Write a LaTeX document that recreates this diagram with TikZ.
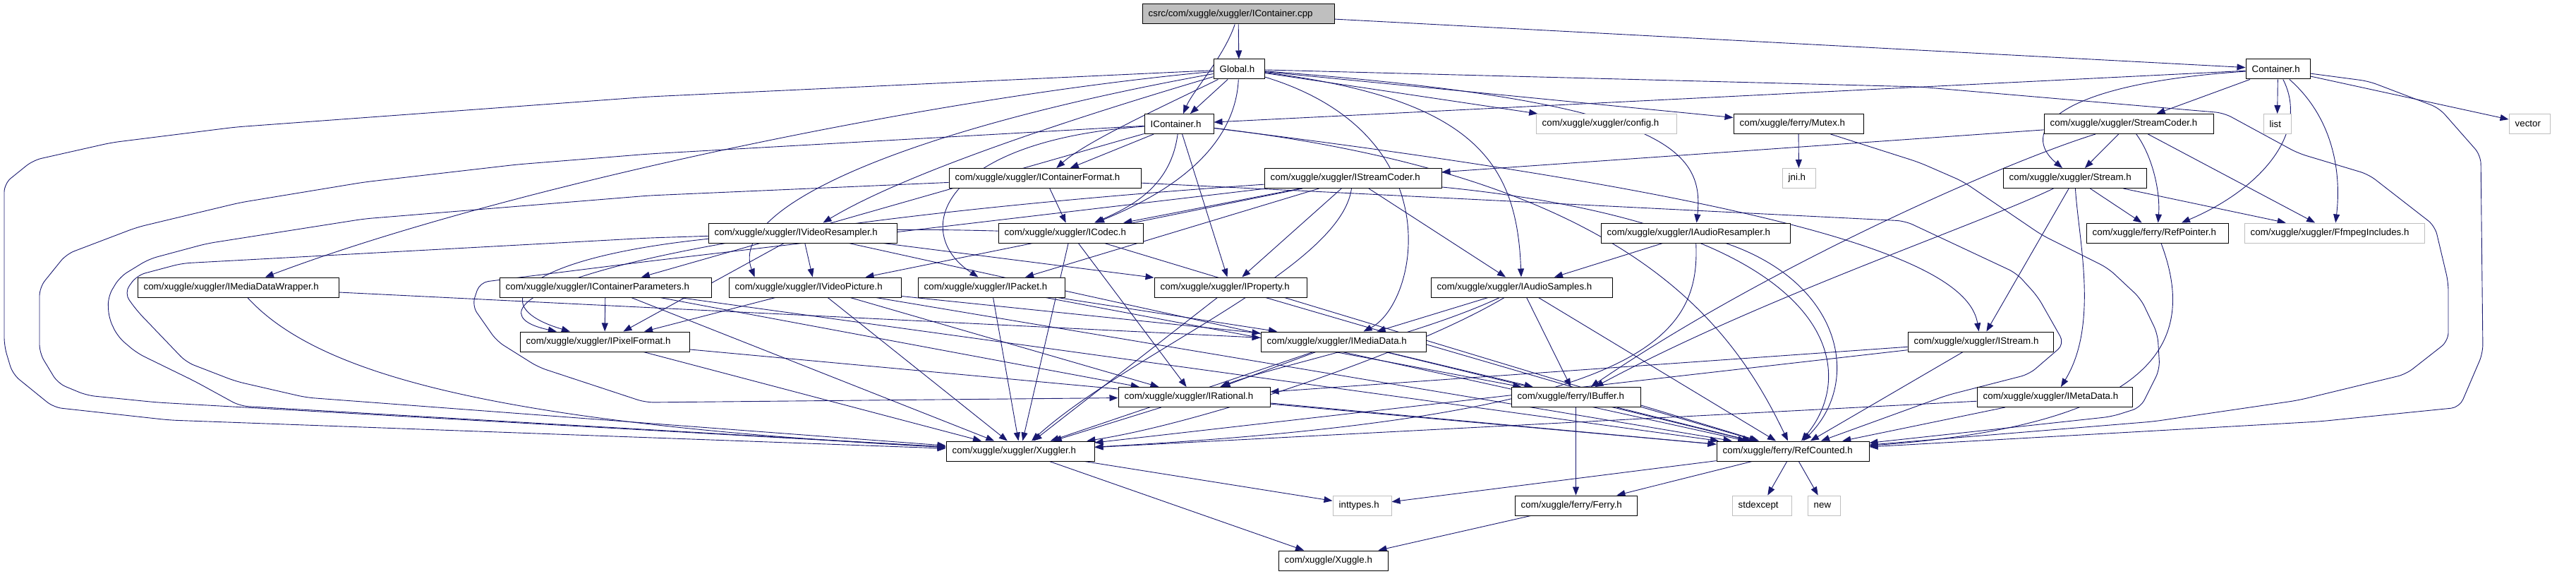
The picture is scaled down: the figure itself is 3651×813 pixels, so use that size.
\documentclass[tikz,border=0pt]{standalone}
\usepackage{fontspec}
\setmainfont{Liberation Sans}
\usetikzlibrary{arrows.meta}
\definecolor{edgec}{HTML}{191970}
\definecolor{grayb}{HTML}{BFBFBF}
\pgfdeclarelayer{bg}
\pgfsetlayers{bg,main}
\newcommand{\nd}[6][box]{%
  \node[#1,minimum width={#4-#3}] (#2) at ({(#3+#4)/2},#5) {};
  \node[lbl] (#2-t) at ([xshift=9pt]#2.west) {#6};}
\begin{document}
\begin{tikzpicture}[x=1pt,y=-1pt,
  box/.style={draw=black,line width=1pt,minimum height=28pt,inner sep=0pt,fill=white},
  gbox/.style={box,draw=grayb},
  cbox/.style={box,fill=grayb},
  lbl/.style={anchor=west,inner sep=0pt,font=\fontsize{13.3pt}{16pt}\selectfont},
  e/.style={draw=edgec,line width=0.9pt,-{Triangle[length=12pt,width=9pt]}},
  rc/.style={rounded corners=12pt}]
\useasboundingbox (0,0) rectangle (3651,813);
% ---------- nodes ----------
\nd[cbox]{cpp}{1619}{1891}{20}{csrc/com/xuggle/xuggler/IContainer.cpp}
\nd{glob}{1720}{1792}{98}{Global.h}
\nd{cont}{3183}{3274}{98}{Container.h}
\nd{icont}{1622}{1720}{175.5}{IContainer.h}
\nd[gbox]{config}{2177}{2376}{175.5}{com/xuggle/xuggler/config.h}
\nd{mutex}{2457}{2641}{175.5}{com/xuggle/ferry/Mutex.h}
\nd{scoder}{2897}{3137}{175.5}{com/xuggle/xuggler/StreamCoder.h}
\nd[gbox]{list}{3208}{3247}{175.5}{list}
\nd[gbox]{vector}{3556}{3614}{175.5}{vector}
\nd{icfmt}{1345}{1617}{252.5}{com/xuggle/xuggler/IContainerFormat.h}
\nd{iscoder}{1792}{2043}{252.5}{com/xuggle/xuggler/IStreamCoder.h}
\nd[gbox]{jni}{2526}{2573}{252.5}{jni.h}
\nd{stream}{2839}{3042}{252.5}{com/xuggle/xuggler/Stream.h}
\nd{ivres}{1004}{1271}{330}{com/xuggle/xuggler/IVideoResampler.h}
\nd{icodec}{1415}{1620}{330}{com/xuggle/xuggler/ICodec.h}
\nd{iares}{2269}{2537}{330}{com/xuggle/xuggler/IAudioResampler.h}
\nd{refptr}{2957}{3158}{330}{com/xuggle/ferry/RefPointer.h}
\nd[gbox]{ffmpeg}{3181}{3436}{330}{com/xuggle/xuggler/FfmpegIncludes.h}
\nd{imdw}{195}{480}{407}{com/xuggle/xuggler/IMediaDataWrapper.h}
\nd{icparams}{708}{1008}{407}{com/xuggle/xuggler/IContainerParameters.h}
\nd{ivpic}{1033}{1277}{407}{com/xuggle/xuggler/IVideoPicture.h}
\nd{ipacket}{1301}{1509}{407}{com/xuggle/xuggler/IPacket.h}
\nd{iprop}{1636}{1852}{407}{com/xuggle/xuggler/IProperty.h}
\nd{iasamp}{2028}{2285}{407}{com/xuggle/xuggler/IAudioSamples.h}
\nd{ipixfmt}{737}{977}{484}{com/xuggle/xuggler/IPixelFormat.h}
\nd{imdata}{1787}{2021}{484}{com/xuggle/xuggler/IMediaData.h}
\nd{istream}{2704}{2910}{484}{com/xuggle/xuggler/IStream.h}
\nd{irational}{1585}{1800}{562.5}{com/xuggle/xuggler/IRational.h}
\nd{ibuffer}{2142}{2325}{562.5}{com/xuggle/ferry/IBuffer.h}
\nd{imeta}{2802}{3022}{562.5}{com/xuggle/xuggler/IMetaData.h}
\nd{xuggler}{1341}{1551}{639}{com/xuggle/xuggler/Xuggler.h}
\nd{refcnt}{2433}{2649}{639}{com/xuggle/ferry/RefCounted.h}
\nd[gbox]{inttypes}{1889}{1972}{716}{inttypes.h}
\nd{ferry}{2147}{2320}{716}{com/xuggle/ferry/Ferry.h}
\nd[gbox]{stdexcept}{2455}{2539}{716}{stdexcept}
\nd[gbox]{new}{2562}{2608}{716}{new}
\nd{xuggle}{1812}{1967}{794}{com/xuggle/Xuggle.h}
% ---------- edges ----------
\begin{pgfonlayer}{bg}
% cpp
\draw[e] (cpp) -- (glob);
\draw[e] (cpp) .. controls (1735,80) and (1690,130) .. (icont);
\draw[e] (cpp) -- (cont);
% Global.h
\draw[e] (glob) -- (icont);
\draw[e] (glob) .. controls (1650,150) and (1540,200) .. (icfmt);
\draw[e] (glob) .. controls (1750,220) and (1640,280) .. (icodec);
\draw[e] (glob) .. controls (1410,200) and (1250,265) .. ([xshift=163pt]ivres.north west);
\draw[e] (glob) .. controls (2357,143) and (2416,210) .. (iares);
\draw[e] (glob) .. controls (2090,140) and (2150,230) .. (iasamp);
\draw[e] (glob) .. controls (1300,140) and (700,270) .. (imdw);
\draw[e] (glob) .. controls (1300,180) and (1030,290) .. ([xshift=37pt]ivpic.north west);
\draw[e] (glob) .. controls (2060,190) and (2010,430) .. (imdata);
\draw[e] (glob) -- (config);
\draw[e] (glob) -- (mutex);
\draw[e,rc] (glob) -- (920,137) -- (334,180) -- (158,202) -- (47,227) -- (6,260) -- (6,490) -- (18,530) -- (76,577) -- (240,595) -- (xuggler);
\draw[e,rc] (glob) -- (2720,123) -- (3152,160) -- (3257,217) -- (3357,247) -- (3451,320) -- (3470,400) -- (3470,483) -- (3410,530) -- (3257,567) -- (3052,597) -- (refcnt);
% Container.h
\draw[e] (cont) -- (icont);
\draw[e] (cont) -- (scoder);
\draw[e] (cont) .. controls (2900,120) and (2865,190) .. (stream);
\draw[e] (cont) -- (list);
\draw[e] (cont) -- (vector);
\draw[e] (cont) .. controls (3275,190) and (3200,270) .. (refptr);
\draw[e] (cont) .. controls (3310,170) and (3318,250) .. (ffmpeg);
\draw[e,rc] (cont) -- (3357,115) -- (3457,153) -- (3516,220) -- (3519,500) -- (3486,577) -- (3287,597) -- (refcnt);
% IContainer.h
\draw[e] (icont) -- (icfmt);
\draw[e] (icont) .. controls (1660,260) and (1610,290) .. (icodec);
\draw[e] (icont) -- (iprop);
\draw[e] (icont) .. controls (1330,200) and (1290,330) .. ([xshift=86pt]ipacket.north west);
\draw[e] (icont) -- (icparams);
\draw[e] (icont) .. controls (2600,290) and (2790,380) .. (istream);
\draw[e,rc] (icont) -- (920,218) -- (733,233) -- (516,258) -- (340,287) -- (194,322) -- (94,360) -- (56,407) -- (56,500) -- (82,543) -- (123,560) -- (223,570) -- (xuggler);
\draw[e] (icont) .. controls (2300,250) and (2450,450) .. (refcnt);
% Mutex.h
\draw[e] (mutex) -- (jni);
\draw[e,rc] (mutex) -- (2720,230) -- (2782,257) -- (2894,333) -- (2988,380) -- (3034,423) -- (3058,473) -- (3061,523) -- (3034,577) -- (2993,590) -- (refcnt);
% StreamCoder.h
\draw[e] (scoder) -- (iscoder);
\draw[e] (scoder) -- (stream);
\draw[e] (scoder) .. controls (3050,220) and (3062,270) .. (refptr);
\draw[e] (scoder) -- (ffmpeg);
\draw[e] (scoder) .. controls (2840,230) and (2500,380) .. (ibuffer);
% Stream.h
\draw[e] (stream) -- (istream);
\draw[e] (stream) -- (refptr);
\draw[e] (stream) -- (ffmpeg);
\draw[e] (stream) .. controls (2946,340) and (2975,460) .. (imeta);
\draw[e] (stream) .. controls (2800,320) and (2500,420) .. (ibuffer);
% IStreamCoder.h
\draw[e] (iscoder) -- (icodec);
\draw[e] (iscoder) -- (iprop);
\draw[e] (iscoder) -- (ipacket);
\draw[e] (iscoder) -- (iasamp);
\draw[e] (iscoder) -- (ivpic);
\draw[e] (iscoder) .. controls (1900,380) and (1600,500) .. (xuggler);
\draw[e] (iscoder) .. controls (2600,320) and (2640,520) .. (refcnt);
\draw[e,rc] (iscoder) -- (920,370) -- (680,400) -- (669,433) -- (704,483) -- (763,520) -- (915,570) -- (irational);
\draw[e] (iscoder) .. controls (800,330) and (650,440) .. (ipixfmt);
% IContainerFormat.h
\draw[e] (icfmt) -- (icodec);
\draw[e,rc] (icfmt) -- (920,277) -- (516,310) -- (293,345) -- (211,367) -- (170,392) -- (153,420) -- (154,450) -- (167,477) -- (194,500) -- (276,540) -- (340,575) -- (xuggler);
\draw[e,rc] (icfmt) -- (1900,273) -- (2700,313) -- (2858,387) -- (2888,420) -- (2926,487) -- (2876,530) -- (2759,560) -- (refcnt);
% IVideoResampler.h
\draw[e] (ivres) -- (ivpic);
\draw[e] (ivres) -- (ipixfmt);
\draw[e] (ivres) -- (iprop);
\draw[e,rc] (ivres) -- (920,337) -- (258,373) -- (194,390) -- (176,415) -- (194,440) -- (264,513) -- (334,540) -- (434,563) -- (xuggler);
\draw[e] (ivres) -- (refcnt);
% ICodec.h
\draw[e] (icodec) -- (irational);
\draw[e] (icodec) -- (xuggler);
\draw[e] (icodec) -- (refcnt);
\draw[e] (icodec) .. controls (800,310) and (640,420) .. (ipixfmt);
% IAudioResampler.h
\draw[e] (iares) -- (iasamp);
\draw[e] (iares) .. controls (2410,480) and (2330,590) .. (xuggler);
\draw[e] (iares) .. controls (2610,400) and (2640,540) .. (refcnt);
% RefPointer.h
\draw[e] (refptr) .. controls (3110,470) and (3080,600) .. (refcnt);
% IMediaDataWrapper.h
\draw[e] (imdw) -- (imdata);
\draw[e] (imdw) .. controls (450,530) and (700,600) .. (xuggler);
% IContainerParameters.h
\draw[e] (icparams) -- (ipixfmt);
\draw[e] (icparams) -- (irational);
\draw[e] (icparams) -- (xuggler);
\draw[e] (icparams) -- (refcnt);
% IVideoPicture.h
\draw[e] (ivpic) -- (ipixfmt);
\draw[e] (ivpic) -- (imdata);
\draw[e] (ivpic) -- (irational);
\draw[e] (ivpic) -- (xuggler);
\draw[e] (ivpic) -- (refcnt);
% IPacket.h
\draw[e] (ipacket) -- (imdata);
\draw[e] (ipacket) -- (xuggler);
\draw[e] (ipacket) -- (ibuffer);
% IProperty.h
\draw[e] (iprop) -- (xuggler);
\draw[e] (iprop) -- (refcnt);
% IAudioSamples.h
\draw[e] (iasamp) -- (imdata);
\draw[e] (iasamp) -- (ibuffer);
\draw[e] (iasamp) .. controls (2000,480) and (1800,520) .. (irational);
\draw[e] (iasamp) .. controls (2000,500) and (1700,600) .. (xuggler);
\draw[e] (iasamp) -- (refcnt);
% IPixelFormat.h
\draw[e] (ipixfmt) -- (xuggler);
\draw[e] (ipixfmt) -- (refcnt);
% IMediaData.h
\draw[e] (imdata) -- (irational);
\draw[e] (imdata) -- (ibuffer);
\draw[e] (imdata) -- (xuggler);
\draw[e] (imdata) -- (refcnt);
% IStream.h
\draw[e] (istream) -- (irational);
\draw[e] (istream) -- (xuggler);
\draw[e] (istream) -- (refcnt);
% lower
\draw[e] (irational) -- (xuggler);
\draw[e] (irational) -- (refcnt);
\draw[e] (ibuffer) -- (ferry);
\draw[e] (ibuffer) -- (refcnt);
\draw[e] (imeta) -- (xuggler);
\draw[e] (imeta) -- (refcnt);
\draw[e] (xuggler) -- (inttypes);
\draw[e] (xuggler) -- (xuggle);
\draw[e] (refcnt) -- (inttypes);
\draw[e] (refcnt) -- (ferry);
\draw[e] (refcnt) -- (stdexcept);
\draw[e] (refcnt) -- (new);
\draw[e] (ferry) -- (xuggle);
\end{pgfonlayer}
\end{tikzpicture}
\end{document}
